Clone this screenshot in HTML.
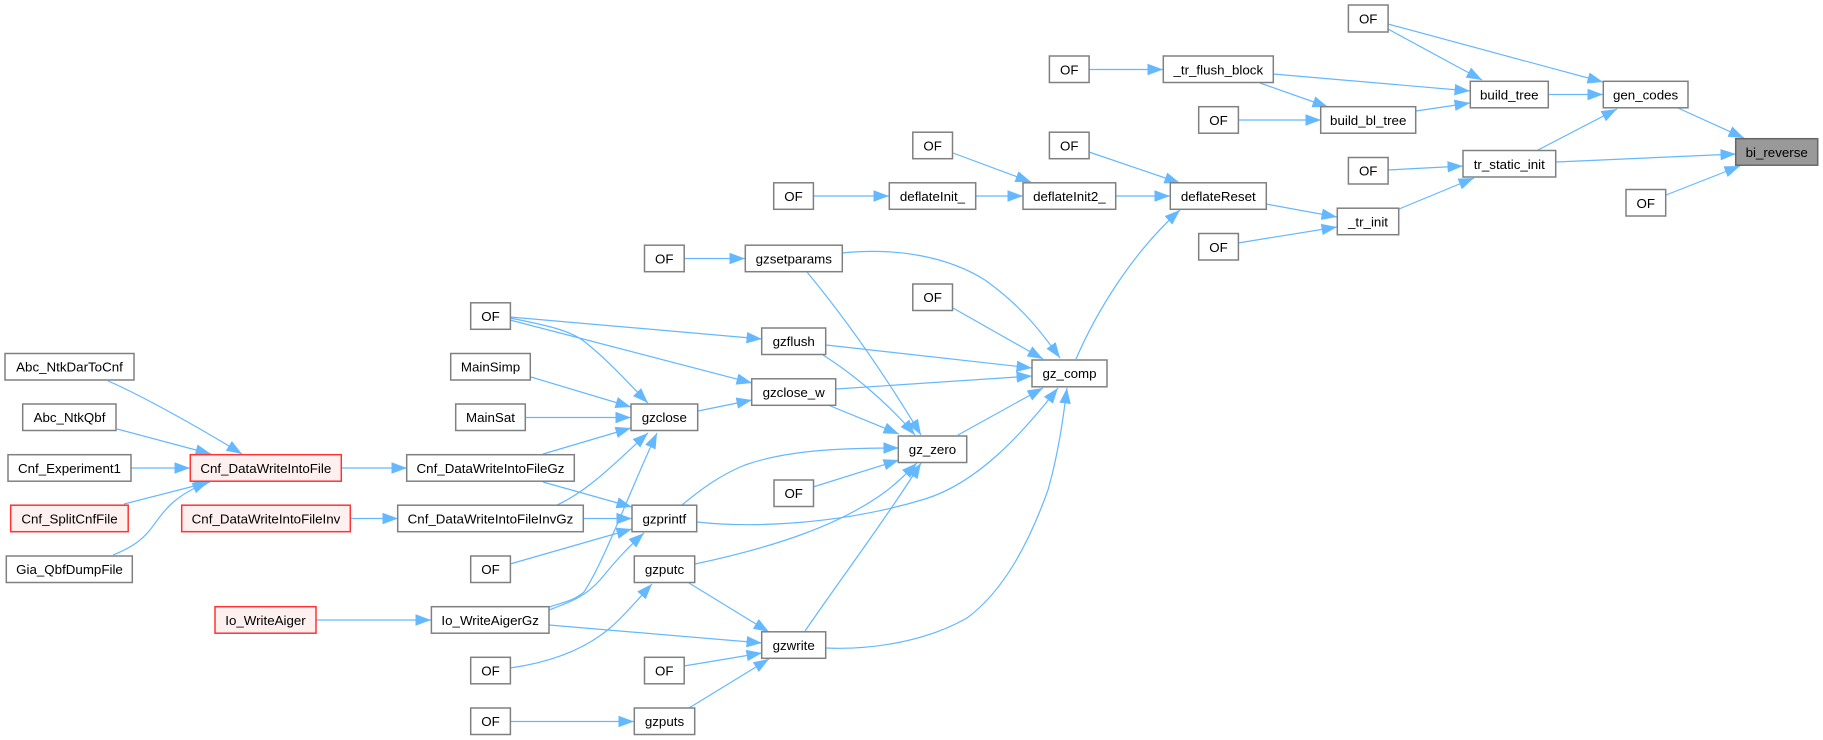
<!DOCTYPE html>
<html><head><meta charset="utf-8">
<style>
html,body{margin:0;padding:0;background:#fff;width:1823px;height:740px;overflow:hidden}
svg{display:block}
text{font-family:"Liberation Sans",Arial,sans-serif;font-size:13.33px;fill:#000;text-anchor:middle}
.n rect{fill:#fff;stroke:#808080;stroke-width:1.5}
.n rect.r{fill:#fff0f0;stroke:#f33}
.n rect.g{fill:#999;stroke:#666}
.e path{fill:none;stroke:#63b8ff;stroke-width:1.2;marker-end:url(#a)}
</style></head><body>
<svg width="1823" height="740" viewBox="0 0 1823 740" xmlns="http://www.w3.org/2000/svg">
<defs><marker id="a" markerUnits="userSpaceOnUse" markerWidth="16" markerHeight="12" refX="15.5" refY="6" orient="auto"><polygon points="0,0.3 15.5,6 0,11.7" fill="#63b8ff"/></marker></defs>
<g class="e">
<path d="M108,381 C143,396 205,431 242,454"/>
<path d="M117,429 L211,454"/>
<path d="M131,468 L190,468"/>
<path d="M124,504 L210,482"/>
<path d="M113,555 C130,548 140,542 150,530 C165,510 172,497 208,482"/>
<path d="M341,468 L407,468"/>
<path d="M350,518.5 L398,518.5"/>
<path d="M684,258.5 L745,258.5"/>
<path d="M842,253 C900,247 950,258 985,280 C1020,305 1040,330 1060,358"/>
<path d="M807,272 C845,318 885,375 921,435"/>
<path d="M510,317 L762,339"/>
<path d="M510,320 L752,383"/>
<path d="M510,318 C545,325 570,330 585,342 C610,362 630,385 648,403"/>
<path d="M531,377 L631,407"/>
<path d="M525,417.5 L631,417.5"/>
<path d="M543,454 L631,428"/>
<path d="M698,411 L752,400"/>
<path d="M826,345 L1032,368"/>
<path d="M823,355 C850,372 885,400 915,435"/>
<path d="M836,389 L1032,376"/>
<path d="M828,405 L899,434"/>
<path d="M958,435 L1043,388"/>
<path d="M682,505 C700,490 720,475 745,465 C790,449 850,448 899,448"/>
<path d="M813,487 L899,460"/>
<path d="M543,482 L632,507"/>
<path d="M557,505 C590,490 620,458 648,433"/>
<path d="M583,518.5 L632,518.5"/>
<path d="M510,564 L632,529"/>
<path d="M549,610 C570,602 585,597 600,580 C615,562 625,550 644,533"/>
<path d="M549,607 C565,602 575,600 584,592 C605,560 630,490 657,433"/>
<path d="M549,625 L762,643"/>
<path d="M316,620 L431,620"/>
<path d="M510,668 C560,661 590,645 610,628 C625,615 640,597 652,584"/>
<path d="M689,583 L769,632"/>
<path d="M695,564 C775,547 840,525 885,492 C897,483 907,473 917,463"/>
<path d="M697,522 C750,528 840,525 925,499 C980,482 1025,430 1058,388"/>
<path d="M826,648 C870,650 925,642 967,618 C1005,590 1030,540 1048,490 C1058,455 1063,420 1067,388"/>
<path d="M805,631 C840,580 885,520 921,463"/>
<path d="M684,666 L762,653"/>
<path d="M689,708 L769,659"/>
<path d="M510,721.5 L634,721.5"/>
<path d="M1076,359 C1095,315 1130,255 1180,210"/>
<path d="M1089,69.5 L1163,69.5"/>
<path d="M1388,29 L1482,80"/>
<path d="M1388,24 L1603,82"/>
<path d="M1273,74 L1470,91"/>
<path d="M1260,83 L1328,107"/>
<path d="M1238,120 L1321,120"/>
<path d="M1416,111 L1470,103"/>
<path d="M1548,94.5 L1603,94.5"/>
<path d="M1678,108 L1744,138"/>
<path d="M1538,150 L1617,109"/>
<path d="M1556,162 L1736,154"/>
<path d="M1666,195 L1740,166"/>
<path d="M1388,170 L1463,166"/>
<path d="M1399,209 L1474,178"/>
<path d="M1266,204 L1337,217"/>
<path d="M1238,243 L1337,227"/>
<path d="M1089,152 L1180,183"/>
<path d="M1116,196 L1170,196"/>
<path d="M953,153 L1031,182"/>
<path d="M976,196 L1023,196"/>
<path d="M813,196 L889,196"/>
<path d="M953,308 L1043,359"/>
</g>
<g class="n">
<rect x="5" y="353.5" width="129" height="26.5"/><text x="69.5" y="371.7">Abc_NtkDarToCnf</text>
<rect x="22.7" y="404" width="93.3" height="26.5"/><text x="69.5" y="422">Abc_NtkQbf</text>
<rect x="8" y="454.7" width="123" height="26.5"/><text x="69.5" y="473">Cnf_Experiment1</text>
<rect class="r" x="10.7" y="505.2" width="117.5" height="26.5"/><text x="69.5" y="523.5">Cnf_SplitCnfFile</text>
<rect x="6.3" y="556" width="126" height="26.5"/><text x="69.5" y="574">Gia_QbfDumpFile</text>
<rect class="r" x="190.3" y="454.7" width="151" height="26.5"/><text x="265.8" y="473">Cnf_DataWriteIntoFile</text>
<rect class="r" x="181.7" y="505.2" width="168.6" height="26.5"/><text x="266" y="523.5">Cnf_DataWriteIntoFileInv</text>
<rect class="r" x="215" y="606.7" width="101" height="26.5"/><text x="265.5" y="625">Io_WriteAiger</text>
<rect x="406.7" y="454.7" width="167.6" height="26.5"/><text x="490.5" y="473">Cnf_DataWriteIntoFileGz</text>
<rect x="397.7" y="505.2" width="185.6" height="26.5"/><text x="490.5" y="523.5">Cnf_DataWriteIntoFileInvGz</text>
<rect x="431.4" y="606.7" width="117.6" height="26.5"/><text x="490.2" y="625">Io_WriteAigerGz</text>
<rect x="470.7" y="302.8" width="39.7" height="26.5"/><text x="490.5" y="321">OF</text>
<rect x="450.7" y="353.5" width="79.6" height="26.5"/><text x="490.5" y="371.7">MainSimp</text>
<rect x="455.7" y="404" width="69.6" height="26.5"/><text x="490.5" y="422">MainSat</text>
<rect x="470.7" y="556" width="39.7" height="26.5"/><text x="490.5" y="574">OF</text>
<rect x="470.7" y="657.3" width="39.7" height="26.5"/><text x="490.5" y="675.5">OF</text>
<rect x="470.7" y="708" width="39.7" height="26.5"/><text x="490.5" y="726">OF</text>
<rect x="644.5" y="245.2" width="39.7" height="26.5"/><text x="664.3" y="263.5">OF</text>
<rect x="631" y="404" width="66.7" height="26.5"/><text x="664.3" y="422">gzclose</text>
<rect x="632" y="505.2" width="64.7" height="26.5"/><text x="664.3" y="523.5">gzprintf</text>
<rect x="634.3" y="556" width="60.4" height="26.5"/><text x="664.5" y="574">gzputc</text>
<rect x="644.5" y="657.3" width="39.7" height="26.5"/><text x="664.3" y="675.5">OF</text>
<rect x="634.3" y="708" width="60.4" height="26.5"/><text x="664.5" y="726">gzputs</text>
<rect x="745.3" y="245.2" width="97" height="26.5"/><text x="793.8" y="263.5">gzsetparams</text>
<rect x="761.7" y="328" width="64" height="26.5"/><text x="793.7" y="346">gzflush</text>
<rect x="751.7" y="378.8" width="84" height="26.5"/><text x="793.7" y="397">gzclose_w</text>
<rect x="774" y="480" width="39.5" height="26.5"/><text x="793.7" y="498">OF</text>
<rect x="761.7" y="631.8" width="64" height="26.5"/><text x="793.7" y="650">gzwrite</text>
<rect x="773.7" y="182.8" width="39.7" height="26.5"/><text x="793.5" y="201">OF</text>
<rect x="889.3" y="182.8" width="86.4" height="26.5"/><text x="932.5" y="201">deflateInit_</text>
<rect x="912.8" y="132.2" width="39.7" height="26.5"/><text x="932.6" y="150.5">OF</text>
<rect x="912.8" y="284" width="39.7" height="26.5"/><text x="932.6" y="302">OF</text>
<rect x="898.3" y="436" width="68.4" height="26.5"/><text x="932.5" y="454">gz_zero</text>
<rect x="1023" y="182.8" width="92.7" height="26.5"/><text x="1069.4" y="201">deflateInit2_</text>
<rect x="1032" y="360" width="75" height="26.8"/><text x="1069.5" y="378">gz_comp</text>
<rect x="1049.4" y="56" width="39.7" height="26.5"/><text x="1069.3" y="74.3">OF</text>
<rect x="1049.4" y="132.2" width="39.7" height="26.5"/><text x="1069.3" y="150.5">OF</text>
<rect x="1163.3" y="56" width="110" height="26.5"/><text x="1218.3" y="74.3">_tr_flush_block</text>
<rect x="1198.7" y="106.7" width="39.7" height="26.5"/><text x="1218.5" y="125">OF</text>
<rect x="1170.3" y="182.8" width="96" height="26.5"/><text x="1218.3" y="201">deflateReset</text>
<rect x="1198.7" y="233.5" width="39.7" height="26.5"/><text x="1218.5" y="252">OF</text>
<rect x="1348.4" y="5" width="39.7" height="27"/><text x="1368.2" y="23.3">OF</text>
<rect x="1320.7" y="106.7" width="95" height="26.5"/><text x="1368.2" y="125">build_bl_tree</text>
<rect x="1348.4" y="157.5" width="39.7" height="26.5"/><text x="1368.2" y="175.7">OF</text>
<rect x="1337.3" y="208.2" width="61.4" height="26.5"/><text x="1368" y="226.5">_tr_init</text>
<rect x="1470.3" y="81.3" width="78" height="26.5"/><text x="1509.3" y="99.5">build_tree</text>
<rect x="1463" y="150.5" width="92.7" height="26.5"/><text x="1509.3" y="169">tr_static_init</text>
<rect x="1603.3" y="81.3" width="84.7" height="26.5"/><text x="1645.6" y="99.5">gen_codes</text>
<rect x="1626" y="189.5" width="39.7" height="26.5"/><text x="1645.8" y="208">OF</text>
<rect class="g" x="1735.7" y="138.7" width="82" height="26.5"/><text x="1776.7" y="157">bi_reverse</text>
</g>
</svg>
</body></html>
